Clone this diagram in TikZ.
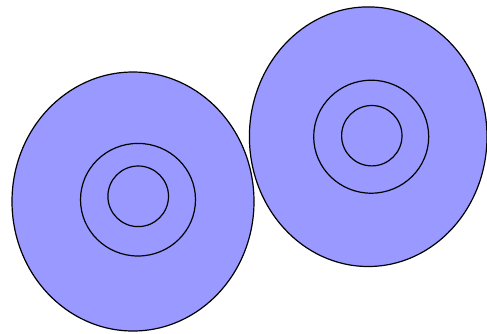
\documentclass[tikz,border=0pt]{standalone}
\definecolor{discblue}{HTML}{9999FF}
\tikzset{disc/.style={fill=discblue,draw=black,line width=1.2pt},
ring/.style={draw=black,line width=1.2pt}}
\begin{document}
\begin{tikzpicture}[x=1pt,y=-1pt]
\useasboundingbox (0,0) rectangle (487,333);
\draw[disc] (133,201.5) ellipse [x radius=121, y radius=129.5];
\draw[ring] (138,199.7) ellipse [x radius=57.5, y radius=56.3];
\draw[ring] (138.2,196.3) circle [radius=30.3];
\draw[disc] (368.2,136.7) ellipse [x radius=118.8, y radius=129.8];
\draw[ring] (371.2,136.7) ellipse [x radius=57.5, y radius=56.5];
\draw[ring] (371.8,135.7) circle [radius=30.2];
\end{tikzpicture}
\end{document}
